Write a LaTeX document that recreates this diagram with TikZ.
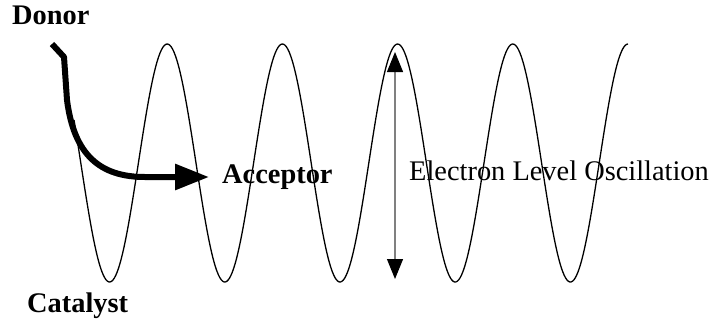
\documentclass[tikz,border=0pt]{standalone}
\usepackage{fontspec}
\setmainfont{Liberation Serif}
\usepackage{xcolor}
\usetikzlibrary{arrows.meta,positioning,calc}
\definecolor{ink}{HTML}{000000}
\definecolor{inkgray}{HTML}{808080}
\tikzset{
  boldlabel/.style={font=\bfseries\fontsize{28.5}{30}\selectfont,inner sep=0pt,text=ink},
  plainlabel/.style={font=\fontsize{28.5}{30}\selectfont,inner sep=0pt,text=ink},
  wave/.style={draw=ink,line width=1.3bp},
  flowarr/.style={-{Triangle[length=34bp,width=25bp]},line width=6bp,color=ink,line join=round},
  levelarr/.style={{Triangle[length=20bp,width=16bp,color=ink]}-{Triangle[length=20bp,width=16bp,color=ink]},line width=1.2bp,color=inkgray}
}

\begin{document}
\begin{tikzpicture}[x=1bp,y=-1bp,>=Latex]
      \useasboundingbox (0,0) rectangle (717,325);
      % oscillation
      \draw[wave] plot[domain=74:628,samples=400,smooth]
        (\x,{163-119*cos(3.125*(\x-52))});

      \node[boldlabel,anchor=base west] (donor) at (12,24) {Donor};
      \node[boldlabel,anchor=west] (acceptor) at (222,177) {Acceptor};
      \node[boldlabel,anchor=base west] (catalyst) at (27,312) {Catalyst};
      \node[plainlabel,anchor=base west] (osclabel) at (409,180) {Electron Level Oscillation};

      \coordinate (dstart) at (52,44);
      \coordinate (dbend) at (64,57);
      \coordinate (osctop) at (395,52);
      \coordinate (oscbot) at (395,279);

      \draw[flowarr,shorten >=13bp] (dstart) -- (dbend) -- (67,100)
        .. controls (74,155) and (100,177) .. (145,177) -- (acceptor.west);
      \draw[levelarr] (oscbot) -- (osctop);
    \end{tikzpicture}
\end{document}
